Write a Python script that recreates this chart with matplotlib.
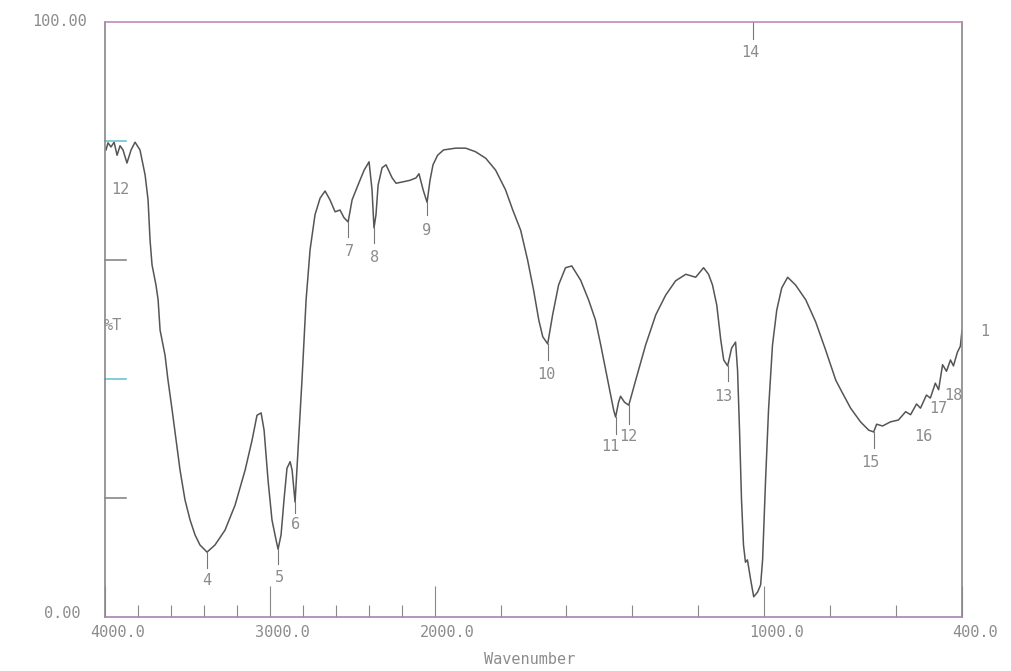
import numpy as np
import matplotlib
matplotlib.use("Agg")
import matplotlib.pyplot as plt
from matplotlib.transforms import ScaledTranslation

# spectrum (cm-1, %T)
wavenumber = [
    3994, 3982, 3964, 3945, 3927, 3909, 3891, 3867, 3842, 3818, 3788, 3757,
    3739, 3727, 3715, 3703, 3691, 3678, 3666, 3648, 3636, 3618, 3593, 3569,
    3545, 3515, 3484, 3454, 3424, 3381, 3333, 3272, 3211, 3150, 3108, 3078,
    3053, 3035, 3011, 2987, 2962, 2950, 2932, 2914, 2896, 2877, 2865, 2847,
    2829, 2805, 2780, 2756, 2726, 2695, 2665, 2635, 2604, 2574, 2550, 2525,
    2501, 2465, 2428, 2398, 2380, 2368, 2356, 2343, 2319, 2295, 2258, 2234,
    2198, 2149, 2113, 2095, 2070, 2046, 2028, 2010, 1991, 1973, 1936, 1906,
    1876, 1845, 1815, 1785, 1763, 1739, 1718, 1700, 1684, 1672, 1657, 1642,
    1624, 1603, 1584, 1557, 1533, 1512, 1496, 1481, 1466, 1457, 1451, 1442,
    1436, 1424, 1411, 1390, 1360, 1329, 1299, 1269, 1238, 1208, 1184, 1169,
    1157, 1144, 1132, 1123, 1111, 1099, 1087, 1081, 1075, 1069, 1063, 1057,
    1051, 1041, 1032, 1020, 1011, 1005, 996, 987, 975, 962, 947, 929,
    905, 874, 844, 814, 783, 768, 738, 708, 683, 668, 659, 641,
    617, 593, 571, 556, 538, 526, 508, 496, 481, 471, 459, 447,
    435, 426, 414, 405, 400,
]
transmittance = [
    78.5, 79.7, 79.0, 79.8, 77.6, 79.2, 78.5, 76.3, 78.5, 79.8, 78.5, 74.3,
    70.1, 63.4, 59.2, 57.5, 55.8, 53.3, 48.2, 45.7, 44.0, 39.8, 34.8, 29.7,
    24.7, 19.7, 16.3, 13.8, 12.1, 10.9, 12.1, 14.6, 18.8, 24.7, 29.7, 33.9,
    34.3, 31.4, 23.0, 16.3, 12.9, 11.4, 13.8, 19.7, 25.0, 26.1, 24.7, 19.3,
    28.1, 39.8, 53.3, 61.7, 67.6, 70.4, 71.6, 70.1, 68.1, 68.4, 67.1, 66.4,
    70.1, 72.6, 75.1, 76.5, 71.8, 65.4, 67.6, 72.6, 75.5, 76.0, 73.8, 72.9,
    73.1, 73.4, 73.8, 74.5, 71.8, 69.7, 73.4, 76.0, 77.6, 78.5, 78.8, 78.8,
    78.2, 77.1, 75.1, 71.8, 68.4, 65.0, 60.0, 55.0, 49.9, 47.1, 45.9, 50.8,
    55.8, 58.7, 59.0, 56.6, 53.3, 49.9, 45.7, 41.5, 37.3, 34.8, 33.6, 36.1,
    37.1, 36.1, 35.6, 39.8, 45.7, 50.8, 54.1, 56.5, 57.6, 57.1, 58.7, 57.6,
    55.8, 52.4, 46.6, 43.2, 42.2, 45.2, 46.2, 41.5, 31.4, 19.7, 12.1, 9.2,
    9.6, 6.2, 3.4, 4.2, 5.4, 9.6, 23.0, 34.8, 45.7, 51.6, 55.3, 57.1,
    55.8, 53.3, 49.6, 44.9, 39.8, 38.2, 35.1, 32.8, 31.4, 31.1, 32.4, 32.1,
    32.8, 33.1, 34.5, 34.0, 35.8, 35.1, 37.3, 36.8, 39.3, 38.2, 42.4, 41.3,
    43.2, 42.2, 44.5, 45.5, 48.2,
]

# peak labels: text, label position (cm-1, %T), tick from curve (top, bottom %T)
peak_names = ["12", "4", "5", "6", "7", "8", "9", "10", "11", "12",
              "13", "14", "15", "16", "17", "18", "1"]
peak_wn = [3909, 3381, 2944, 2841, 2519, 2362, 2052, 1660, 1466, 1411,
           1123, 1041, 677, 516, 471, 425, 330]
peak_t = [71.8, 6.1, 6.6, 15.5, 61.5, 60.5, 65.0, 40.8, 28.6, 30.3,
          37.0, 94.8, 25.9, 30.3, 35.1, 37.3, 47.9]
tick_wn = [None, 3381, 2950, 2847, 2525, 2368, 2046, 1657, 1451, 1411,
           1111, 1035, 668, None, None, None, None]
tick_top = [None, 10.9, 11.4, 19.3, 66.4, 65.4, 69.7, 45.9, 33.6, 35.6,
            42.2, 100.0, 31.1, None, None, None, None]
tick_bot = [None, 8.3, 8.9, 17.4, 63.8, 62.8, 67.6, 43.2, 30.8, 32.4,
            39.6, 97.2, 28.4, None, None, None, None]

x_major = [4000, 3000, 2000, 1000, 400]
x_labels = ["4000.0", "3000.0", "2000.0", "1000.0", "400.0"]
x_minor = [3800, 3600, 3400, 3200, 2800, 2600, 2400, 2200,
           1800, 1600, 1400, 1200, 800, 600]
y_ticks = [20, 40, 60, 80]
y_tick_colors = ["#888888", "#6cc7cf", "#888888", "#6cc7cf"]


def forward(x):
    # 2x expansion below 2000 cm-1, like the instrument printout
    x = np.asarray(x, dtype=float)
    return np.where(x >= 2000, x, 2 * x - 2000)


def inverse(v):
    v = np.asarray(v, dtype=float)
    return np.where(v >= 2000, v, (v + 2000) / 2)


txt = "#8c8c8c"
font = dict(family="DejaVu Sans Mono", color=txt, fontsize=11)

fig = plt.figure(figsize=(10.12, 6.71), dpi=100)
ax = fig.add_axes([0.1038, 0.0805, 0.8468, 0.8867])
ax.set_xscale("function", functions=(forward, inverse))

ax.plot(wavenumber, transmittance, color="#555555", lw=1.1)

for i, name in enumerate(peak_names):
    ax.text(peak_wn[i], peak_t[i], name, ha="center", va="center",
            clip_on=False, **font)
    if tick_wn[i] is not None:
        ax.plot([tick_wn[i], tick_wn[i]], [tick_top[i], tick_bot[i]],
                color="#777777", lw=0.8)

ax.set_xlim(4000, 400)
ax.set_ylim(0, 100)

ax.set_xticks(x_major)
ax.set_xticklabels(x_labels, **font)
ax.set_xticks(x_minor, minor=True)
ax.tick_params(axis="x", which="major", direction="in", length=22,
               width=0.8, color="#888888", pad=6)
ax.tick_params(axis="x", which="minor", direction="in", length=9,
               width=0.8, color="#888888")
offset = ScaledTranslation(9 / 72, 0, fig.dpi_scale_trans)
for lbl in ax.get_xticklabels():
    lbl.set_transform(lbl.get_transform() + offset)

# y ticks drawn as short inward dashes, alternating colours as on the scan
ax.set_yticks([])
ytr = ax.get_yaxis_transform()
for v, c in zip(y_ticks, y_tick_colors):
    ax.plot([0, 0.025], [v, v], transform=ytr, color=c, lw=1.2, clip_on=False)

for s in ["left", "right"]:
    ax.spines[s].set_color("#888888")
ax.spines["top"].set_color("#c08ab8")
ax.spines["bottom"].set_color("#a884b0")
for s in ax.spines.values():
    s.set_linewidth(1.2)

fig.text(60 / 1012, 1 - 22 / 671, "100.00", ha="center", va="center", **font)
fig.text(62 / 1012, 1 - 613 / 671, "0.00", ha="center", va="center", **font)
fig.text(113 / 1012, 1 - 325 / 671, "%T", ha="center", va="center", **font)
fig.text(530 / 1012, 1 - 660 / 671, "Wavenumber", ha="center", va="center", **font)

fig.savefig("out.png", dpi=100)
